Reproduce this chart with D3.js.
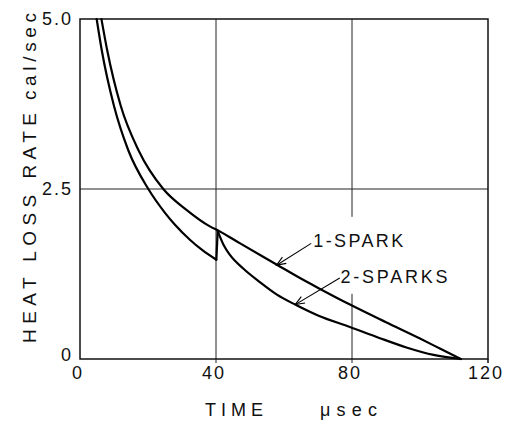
<!DOCTYPE html>
<html>
<head>
<meta charset="utf-8">
<script src="https://cdn.jsdelivr.net/npm/d3@7"></script>
<style>
  body { margin: 0; background: #fff; }
  svg { display: block; }
  text { font-family: "Liberation Sans", Arial, sans-serif; fill: #111; }
</style>
</head>
<body>
<script>
// Axis ticks
const xTicks = [0, 40, 80, 120];
const xTickLabels = ["0", "40", "80", "120"];
const yTicks = [0, 2.5, 5.0];
const yTickLabels = ["0", "2.5", "5.0"];

// Heat loss rate (cal/sec) against time (μsec), single spark
const oneSparkTime = [6.3, 8.0, 12.0, 17.2, 24.5, 31.4, 38.2, 41.0, 47.1, 57.8, 64.7, 70.6, 79.4, 90, 100, 106, 112];
const oneSparkRate = [5.0, 4.54, 3.72, 3.07, 2.5, 2.19, 1.95, 1.88, 1.70, 1.39, 1.19, 1.03, 0.80, 0.54, 0.30, 0.15, 0];

// Two sparks, before the second spark
const twoSparkTimeA = [4.9, 6.4, 10.0, 14.2, 20.1, 25.0, 28.0, 32.4, 36.0, 40.1];
const twoSparkRateA = [5.0, 4.54, 3.72, 3.07, 2.5, 2.15, 1.97, 1.75, 1.60, 1.46];
// Two sparks, after the second spark at about 40 μsec
const twoSparkTimeB = [40.5, 42.2, 44.1, 48.0, 52.9, 57.8, 63.7, 70.0, 79.4, 88.0, 96.0, 104.0, 112];
const twoSparkRateB = [1.88, 1.68, 1.53, 1.33, 1.13, 0.95, 0.79, 0.64, 0.47, 0.31, 0.17, 0.06, 0];

// Curve callouts: label text, label anchor and arrow (tail -> head) in data units
const seriesLabels = ["1-SPARK", "2-SPARKS"];
const labelTime = [68.6, 76.6];
const labelRate = [1.65, 1.12];
const arrowFromTime = [68.0, 76.4];
const arrowFromRate = [1.70, 1.19];
const arrowToTime = [57.8, 63.3];
const arrowToRate = [1.38, 0.80];

const xTitle = "TIME", xUnit = "μsec";
const yTitle = "HEAT LOSS RATE", yUnit = "cal/sec";

const W = 506, H = 423;
const margin = { left: 80, right: 18, top: 19, bottom: 64 };

const x = d3.scaleLinear().domain([0, 120]).range([margin.left, W - margin.right]);
const y = d3.scaleLinear().domain([0, 5]).range([H - margin.bottom, margin.top]);

const svg = d3.select("body").append("svg").attr("width", W).attr("height", H);

// Grid lines
const grid = svg.append("g").attr("stroke", "#222").attr("stroke-width", 1);
grid.selectAll("line.v").data(xTicks.slice(1, -1)).join("line")
  .attr("x1", d => x(d)).attr("x2", d => x(d))
  .attr("y1", y(5)).attr("y2", y(0) + 4);
grid.selectAll("line.h").data([2.5]).join("line")
  .attr("x1", x(0)).attr("x2", x(120))
  .attr("y1", d => y(d)).attr("y2", d => y(d));

// Frame
svg.append("rect")
  .attr("x", x(0)).attr("y", y(5))
  .attr("width", x(120) - x(0)).attr("height", y(0) - y(5))
  .attr("fill", "none").attr("stroke", "#111").attr("stroke-width", 1.5);
svg.append("line")
  .attr("x1", x(120)).attr("x2", x(120)).attr("y1", y(0)).attr("y2", y(0) + 4)
  .attr("stroke", "#111").attr("stroke-width", 1.5);

// Tick labels
svg.append("g").selectAll("text").data(xTicks).join("text")
  .attr("x", d => x(d) - 2).attr("y", y(0) + 20)
  .attr("text-anchor", "middle").attr("font-size", 18).attr("letter-spacing", 2)
  .text((d, i) => xTickLabels[i]);
svg.append("g").selectAll("text").data(yTicks).join("text")
  .attr("x", margin.left - 7).attr("y", d => y(d) - (d === 0 ? 4 : 0))
  .attr("dy", "0.36em")
  .attr("text-anchor", "end").attr("font-size", 18).attr("letter-spacing", 2)
  .text((d, i) => yTickLabels[i]);

// Axis titles
svg.append("text").attr("x", 205).attr("y", 416).attr("font-size", 18)
  .attr("textLength", 58).attr("lengthAdjust", "spacing").text(xTitle);
svg.append("text").attr("x", 320).attr("y", 416).attr("font-size", 18)
  .attr("textLength", 57).attr("lengthAdjust", "spacing").text(xUnit);

const yt = svg.append("g").attr("transform", "translate(36,343) rotate(-90)");
yt.append("text").attr("x", 0).attr("y", 0).attr("font-size", 19)
  .attr("textLength", 230).attr("lengthAdjust", "spacing").text(yTitle);
yt.append("text").attr("x", 243).attr("y", 0).attr("font-size", 19)
  .attr("textLength", 87).attr("lengthAdjust", "spacing").text(yUnit);

// White backing behind the callout labels
svg.append("rect")
  .attr("x", x(80) - 6).attr("y", y(labelRate[0]) - 30)
  .attr("width", 12).attr("height", 77).attr("fill", "#fff");

// Curves
const line = d3.line().x(d => x(d[0])).y(d => y(d[1])).curve(d3.curveMonotoneX);
const pairs = (ts, vs) => ts.map((t, i) => [t, vs[i]]);
const oneSpark = pairs(oneSparkTime, oneSparkRate);
const twoA = pairs(twoSparkTimeA, twoSparkRateA);
const twoB = pairs(twoSparkTimeB, twoSparkRateB);
const curves = svg.append("g").attr("fill", "none").attr("stroke", "#000").attr("stroke-width", 2.2)
  .attr("stroke-linejoin", "round").attr("stroke-linecap", "round");
curves.selectAll("path").data([oneSpark, twoA, twoB]).join("path").attr("d", line);
// jump in heat loss when the second spark fires
curves.append("path").attr("d", d3.line().x(d => x(d[0])).y(d => y(d[1]))([twoA[twoA.length - 1], twoB[0]]));

// Callout arrows
const arrows = svg.append("g").attr("stroke", "#000").attr("stroke-width", 1.1).attr("fill", "none");
seriesLabels.forEach((s, i) => {
  const x1 = x(arrowFromTime[i]), y1 = y(arrowFromRate[i]);
  const x2 = x(arrowToTime[i]), y2 = y(arrowToRate[i]);
  const a = Math.atan2(y2 - y1, x2 - x1), L = 10, spread = 0.38;
  arrows.append("line").attr("x1", x1).attr("y1", y1).attr("x2", x2).attr("y2", y2);
  arrows.append("path").attr("d",
    `M${x2 - L * Math.cos(a - spread)},${y2 - L * Math.sin(a - spread)}L${x2},${y2}L${x2 - L * Math.cos(a + spread)},${y2 - L * Math.sin(a + spread)}`);
});

// Callout labels
svg.append("g").selectAll("text").data(seriesLabels).join("text")
  .attr("x", (d, i) => x(labelTime[i])).attr("y", (d, i) => y(labelRate[i]))
  .attr("font-size", 18)
  .attr("textLength", (d, i) => [90, 107][i]).attr("lengthAdjust", "spacing")
  .text(d => d);
</script>
</body>
</html>
